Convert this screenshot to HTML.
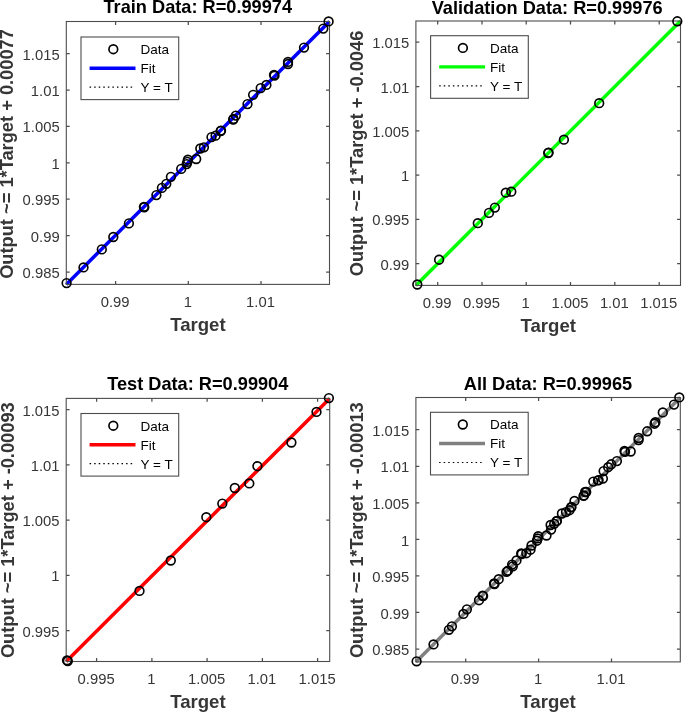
<!DOCTYPE html>
<html lang="en"><head><meta charset="utf-8"><title>Regression</title>
<style>html,body{margin:0;padding:0;background:#fff}svg{display:block}text{font-family:'Liberation Sans', sans-serif}</style>
</head><body>
<svg width="685" height="712" viewBox="0 0 685 712">
<rect width="685" height="712" fill="#fff"/>
<g>
<line x1="66.3" y1="284.4" x2="329.5" y2="21.5" stroke="#000" stroke-width="0.8" stroke-dasharray="1 3.13"/>
<line x1="66.3" y1="284.4" x2="329.5" y2="21.5" stroke="#0000ff" stroke-width="3.5"/>
<rect x="66.3" y="21.5" width="263.2" height="262.9" fill="none" stroke="#4d4d4d" stroke-width="1.1"/>
<path d="M115.6 284.4v-3.4M115.6 21.5v3.4M188.3 284.4v-3.4M188.3 21.5v3.4M261.0 284.4v-3.4M261.0 21.5v3.4M66.3 53.6h3.4M329.5 53.6h-3.4M66.3 90.0h3.4M329.5 90.0h-3.4M66.3 126.4h3.4M329.5 126.4h-3.4M66.3 162.8h3.4M329.5 162.8h-3.4M66.3 199.2h3.4M329.5 199.2h-3.4M66.3 235.6h3.4M329.5 235.6h-3.4M66.3 272.0h3.4M329.5 272.0h-3.4" stroke="#4d4d4d" stroke-width="1.25" fill="none"/>
<g fill="none" stroke="#000" stroke-width="1.65">
<circle cx="66.6" cy="283.1" r="4.35"/>
<circle cx="83.5" cy="267.4" r="4.35"/>
<circle cx="101.8" cy="249.4" r="4.35"/>
<circle cx="113.3" cy="237.0" r="4.35"/>
<circle cx="128.9" cy="223.4" r="4.35"/>
<circle cx="143.9" cy="206.8" r="4.35"/>
<circle cx="144.3" cy="207.3" r="4.35"/>
<circle cx="156.4" cy="195.1" r="4.35"/>
<circle cx="161.9" cy="187.9" r="4.35"/>
<circle cx="166.3" cy="183.8" r="4.35"/>
<circle cx="170.9" cy="176.8" r="4.35"/>
<circle cx="181.2" cy="168.9" r="4.35"/>
<circle cx="186.7" cy="164.1" r="4.35"/>
<circle cx="187.4" cy="161.9" r="4.35"/>
<circle cx="187.9" cy="159.7" r="4.35"/>
<circle cx="196.2" cy="159.0" r="4.35"/>
<circle cx="200.3" cy="148.5" r="4.35"/>
<circle cx="203.9" cy="147.3" r="4.35"/>
<circle cx="211.5" cy="137.1" r="4.35"/>
<circle cx="215.6" cy="135.7" r="4.35"/>
<circle cx="220.7" cy="131.0" r="4.35"/>
<circle cx="221.0" cy="130.6" r="4.35"/>
<circle cx="233.2" cy="119.5" r="4.35"/>
<circle cx="233.5" cy="119.0" r="4.35"/>
<circle cx="235.8" cy="115.6" r="4.35"/>
<circle cx="247.5" cy="104.1" r="4.35"/>
<circle cx="253.1" cy="94.8" r="4.35"/>
<circle cx="260.7" cy="88.1" r="4.35"/>
<circle cx="266.4" cy="84.9" r="4.35"/>
<circle cx="274.5" cy="75.7" r="4.35"/>
<circle cx="274.0" cy="74.8" r="4.35"/>
<circle cx="288.0" cy="64.0" r="4.35"/>
<circle cx="288.0" cy="61.9" r="4.35"/>
<circle cx="304.0" cy="47.6" r="4.35"/>
<circle cx="323.3" cy="28.6" r="4.35"/>
<circle cx="328.6" cy="21.4" r="4.35"/>
</g>
<g font-size="14.8" fill="#363636">
<text x="115.1" y="306.6" text-anchor="middle">0.99</text>
<text x="187.8" y="306.6" text-anchor="middle">1</text>
<text x="260.5" y="306.6" text-anchor="middle">1.01</text>
<text x="59.65" y="59.65" text-anchor="end">1.015</text>
<text x="59.65" y="96.05" text-anchor="end">1.01</text>
<text x="59.65" y="132.45" text-anchor="end">1.005</text>
<text x="59.65" y="168.85" text-anchor="end">1</text>
<text x="59.65" y="205.25" text-anchor="end">0.995</text>
<text x="59.65" y="241.65" text-anchor="end">0.99</text>
<text x="59.65" y="278.05" text-anchor="end">0.985</text>
</g>
<text x="197.8" y="12.9" text-anchor="middle" font-size="18.2" font-weight="bold" fill="#000">Train Data: R=0.99974</text>
<text x="197.9" y="330.9" text-anchor="middle" font-size="18.6" font-weight="bold" fill="#363636">Target</text>
<text transform="translate(13.0 154.0) rotate(-90)" text-anchor="middle" font-size="18.25" font-weight="bold" fill="#363636">Output ~= 1*Target + 0.00077</text>
<rect x="81.0" y="37.0" width="97.7" height="62.6" fill="#fff" stroke="#4d4d4d" stroke-width="1.1"/>
<circle cx="113.3" cy="49.2" r="4.35" fill="none" stroke="#000" stroke-width="1.65"/>
<line x1="89.6" y1="68.2" x2="135.5" y2="68.2" stroke="#0000ff" stroke-width="3.4"/>
<line x1="89.6" y1="87.2" x2="132.4" y2="87.2" stroke="#000" stroke-width="1.2" stroke-dasharray="1.5 3.06"/>
<g font-size="13.5" fill="#000">
<text x="140.5" y="54.0">Data</text>
<text x="140.5" y="73.0">Fit</text>
<text x="140.5" y="92.0">Y = T</text>
</g>
</g>
<g>
<line x1="415.9" y1="285.4" x2="680.5" y2="21.0" stroke="#000" stroke-width="0.8" stroke-dasharray="1 3.13"/>
<line x1="415.9" y1="285.4" x2="680.5" y2="21.0" stroke="#00ff00" stroke-width="3.5"/>
<rect x="415.9" y="21.0" width="264.6" height="264.4" fill="none" stroke="#4d4d4d" stroke-width="1.1"/>
<path d="M437.7 285.4v-3.4M437.7 21.0v3.4M482.0 285.4v-3.4M482.0 21.0v3.4M526.2 285.4v-3.4M526.2 21.0v3.4M570.5 285.4v-3.4M570.5 21.0v3.4M614.8 285.4v-3.4M614.8 21.0v3.4M659.2 285.4v-3.4M659.2 21.0v3.4M415.9 42.2h3.4M680.5 42.2h-3.4M415.9 86.5h3.4M680.5 86.5h-3.4M415.9 130.8h3.4M680.5 130.8h-3.4M415.9 175.1h3.4M680.5 175.1h-3.4M415.9 219.4h3.4M680.5 219.4h-3.4M415.9 263.5h3.4M680.5 263.5h-3.4" stroke="#4d4d4d" stroke-width="1.25" fill="none"/>
<g fill="none" stroke="#000" stroke-width="1.65">
<circle cx="417.3" cy="284.5" r="4.35"/>
<circle cx="439.1" cy="259.7" r="4.35"/>
<circle cx="477.8" cy="223.2" r="4.35"/>
<circle cx="489.0" cy="212.9" r="4.35"/>
<circle cx="494.9" cy="207.6" r="4.35"/>
<circle cx="505.8" cy="192.7" r="4.35"/>
<circle cx="511.3" cy="191.7" r="4.35"/>
<circle cx="548.6" cy="152.6" r="4.35"/>
<circle cx="548.2" cy="153.0" r="4.35"/>
<circle cx="563.9" cy="139.7" r="4.35"/>
<circle cx="599.2" cy="103.2" r="4.35"/>
<circle cx="677.3" cy="21.3" r="4.35"/>
</g>
<g font-size="14.8" fill="#363636">
<text x="437.2" y="307.8" text-anchor="middle">0.99</text>
<text x="481.5" y="307.8" text-anchor="middle">0.995</text>
<text x="525.7" y="307.8" text-anchor="middle">1</text>
<text x="570.0" y="307.8" text-anchor="middle">1.005</text>
<text x="614.3" y="307.8" text-anchor="middle">1.01</text>
<text x="658.7" y="307.8" text-anchor="middle">1.015</text>
<text x="409.25" y="48.25" text-anchor="end">1.015</text>
<text x="409.25" y="92.55" text-anchor="end">1.01</text>
<text x="409.25" y="136.85" text-anchor="end">1.005</text>
<text x="409.25" y="181.15" text-anchor="end">1</text>
<text x="409.25" y="225.45" text-anchor="end">0.995</text>
<text x="409.25" y="269.55" text-anchor="end">0.99</text>
</g>
<text x="547.2" y="13.5" text-anchor="middle" font-size="18.2" font-weight="bold" fill="#000">Validation Data: R=0.99976</text>
<text x="548.2" y="331.9" text-anchor="middle" font-size="18.6" font-weight="bold" fill="#363636">Target</text>
<text transform="translate(362.6 153.5) rotate(-90)" text-anchor="middle" font-size="18.25" font-weight="bold" fill="#363636">Output ~= 1*Target + -0.0046</text>
<rect x="430.6" y="35.7" width="97.7" height="62.6" fill="#fff" stroke="#4d4d4d" stroke-width="1.1"/>
<circle cx="462.9" cy="47.9" r="4.35" fill="none" stroke="#000" stroke-width="1.65"/>
<line x1="439.2" y1="66.9" x2="485.1" y2="66.9" stroke="#00ff00" stroke-width="3.4"/>
<line x1="439.2" y1="85.9" x2="482.0" y2="85.9" stroke="#000" stroke-width="1.2" stroke-dasharray="1.5 3.06"/>
<g font-size="13.5" fill="#000">
<text x="490.1" y="52.7">Data</text>
<text x="490.1" y="71.7">Fit</text>
<text x="490.1" y="90.7">Y = T</text>
</g>
</g>
<g>
<line x1="66.2" y1="661.5" x2="329.7" y2="398.4" stroke="#000" stroke-width="0.8" stroke-dasharray="1 3.13"/>
<line x1="66.2" y1="661.5" x2="329.7" y2="398.4" stroke="#ff0000" stroke-width="3.5"/>
<rect x="66.2" y="398.4" width="263.5" height="263.1" fill="none" stroke="#4d4d4d" stroke-width="1.1"/>
<path d="M96.6 661.5v-3.4M96.6 398.4v3.4M151.9 661.5v-3.4M151.9 398.4v3.4M207.1 661.5v-3.4M207.1 398.4v3.4M262.4 661.5v-3.4M262.4 398.4v3.4M317.6 661.5v-3.4M317.6 398.4v3.4M66.2 409.5h3.4M329.7 409.5h-3.4M66.2 464.8h3.4M329.7 464.8h-3.4M66.2 520.0h3.4M329.7 520.0h-3.4M66.2 575.3h3.4M329.7 575.3h-3.4M66.2 630.5h3.4M329.7 630.5h-3.4" stroke="#4d4d4d" stroke-width="1.25" fill="none"/>
<g fill="none" stroke="#000" stroke-width="1.65">
<circle cx="67.0" cy="660.3" r="4.35"/>
<circle cx="67.8" cy="661.0" r="4.35"/>
<circle cx="139.5" cy="590.9" r="4.35"/>
<circle cx="170.8" cy="560.5" r="4.35"/>
<circle cx="206.3" cy="517.2" r="4.35"/>
<circle cx="222.3" cy="503.6" r="4.35"/>
<circle cx="234.8" cy="488.0" r="4.35"/>
<circle cx="249.3" cy="483.4" r="4.35"/>
<circle cx="257.4" cy="466.2" r="4.35"/>
<circle cx="291.4" cy="442.5" r="4.35"/>
<circle cx="316.5" cy="411.9" r="4.35"/>
<circle cx="328.9" cy="398.1" r="4.35"/>
</g>
<g font-size="14.8" fill="#363636">
<text x="96.1" y="683.7" text-anchor="middle">0.995</text>
<text x="151.4" y="683.7" text-anchor="middle">1</text>
<text x="206.6" y="683.7" text-anchor="middle">1.005</text>
<text x="261.9" y="683.7" text-anchor="middle">1.01</text>
<text x="317.1" y="683.7" text-anchor="middle">1.015</text>
<text x="59.55" y="415.55" text-anchor="end">1.015</text>
<text x="59.55" y="470.85" text-anchor="end">1.01</text>
<text x="59.55" y="526.05" text-anchor="end">1.005</text>
<text x="59.55" y="581.35" text-anchor="end">1</text>
<text x="59.55" y="636.55" text-anchor="end">0.995</text>
</g>
<text x="197.8" y="390.1" text-anchor="middle" font-size="18.2" font-weight="bold" fill="#000">Test Data: R=0.99904</text>
<text x="197.9" y="708.0" text-anchor="middle" font-size="18.6" font-weight="bold" fill="#363636">Target</text>
<text transform="translate(13.5 530.2) rotate(-90)" text-anchor="middle" font-size="18.25" font-weight="bold" fill="#363636">Output ~= 1*Target + -0.00093</text>
<rect x="81.0" y="413.5" width="97.7" height="62.6" fill="#fff" stroke="#4d4d4d" stroke-width="1.1"/>
<circle cx="113.3" cy="425.7" r="4.35" fill="none" stroke="#000" stroke-width="1.65"/>
<line x1="89.6" y1="444.7" x2="135.5" y2="444.7" stroke="#ff0000" stroke-width="3.4"/>
<line x1="89.6" y1="463.7" x2="132.4" y2="463.7" stroke="#000" stroke-width="1.2" stroke-dasharray="1.5 3.06"/>
<g font-size="13.5" fill="#000">
<text x="140.5" y="430.5">Data</text>
<text x="140.5" y="449.5">Fit</text>
<text x="140.5" y="468.5">Y = T</text>
</g>
</g>
<g>
<line x1="415.9" y1="661.9" x2="680.3" y2="397.5" stroke="#000" stroke-width="0.8" stroke-dasharray="1 3.13"/>
<line x1="415.9" y1="661.9" x2="680.3" y2="397.5" stroke="#808080" stroke-width="3.5"/>
<rect x="415.9" y="397.5" width="264.4" height="264.4" fill="none" stroke="#4d4d4d" stroke-width="1.1"/>
<path d="M465.7 661.9v-3.4M465.7 397.5v3.4M538.6 661.9v-3.4M538.6 397.5v3.4M611.5 661.9v-3.4M611.5 397.5v3.4M415.9 429.7h3.4M680.3 429.7h-3.4M415.9 466.25h3.4M680.3 466.25h-3.4M415.9 502.8h3.4M680.3 502.8h-3.4M415.9 539.35h3.4M680.3 539.35h-3.4M415.9 575.9h3.4M680.3 575.9h-3.4M415.9 612.45h3.4M680.3 612.45h-3.4M415.9 649.0h3.4M680.3 649.0h-3.4" stroke="#4d4d4d" stroke-width="1.25" fill="none"/>
<g fill="none" stroke="#000" stroke-width="1.65">
<circle cx="416.6" cy="661.3" r="4.35"/>
<circle cx="433.5" cy="644.4" r="4.35"/>
<circle cx="451.9" cy="626.3" r="4.35"/>
<circle cx="463.4" cy="613.9" r="4.35"/>
<circle cx="479.0" cy="600.2" r="4.35"/>
<circle cx="494.1" cy="583.5" r="4.35"/>
<circle cx="494.5" cy="584.0" r="4.35"/>
<circle cx="506.6" cy="571.8" r="4.35"/>
<circle cx="512.1" cy="564.6" r="4.35"/>
<circle cx="516.5" cy="560.4" r="4.35"/>
<circle cx="521.2" cy="553.4" r="4.35"/>
<circle cx="531.5" cy="545.5" r="4.35"/>
<circle cx="537.0" cy="540.7" r="4.35"/>
<circle cx="537.7" cy="538.4" r="4.35"/>
<circle cx="538.2" cy="536.2" r="4.35"/>
<circle cx="546.5" cy="535.5" r="4.35"/>
<circle cx="550.6" cy="525.0" r="4.35"/>
<circle cx="554.2" cy="523.8" r="4.35"/>
<circle cx="561.9" cy="513.5" r="4.35"/>
<circle cx="566.0" cy="512.1" r="4.35"/>
<circle cx="571.1" cy="507.4" r="4.35"/>
<circle cx="571.4" cy="507.0" r="4.35"/>
<circle cx="583.6" cy="495.9" r="4.35"/>
<circle cx="583.9" cy="495.4" r="4.35"/>
<circle cx="586.2" cy="492.0" r="4.35"/>
<circle cx="598.0" cy="480.4" r="4.35"/>
<circle cx="603.6" cy="471.1" r="4.35"/>
<circle cx="611.2" cy="464.3" r="4.35"/>
<circle cx="616.9" cy="461.1" r="4.35"/>
<circle cx="625.0" cy="451.9" r="4.35"/>
<circle cx="624.5" cy="451.0" r="4.35"/>
<circle cx="638.6" cy="440.1" r="4.35"/>
<circle cx="638.6" cy="438.0" r="4.35"/>
<circle cx="654.6" cy="423.7" r="4.35"/>
<circle cx="674.0" cy="404.6" r="4.35"/>
<circle cx="679.3" cy="397.4" r="4.35"/>
<circle cx="448.9" cy="629.8" r="4.35"/>
<circle cx="466.9" cy="609.3" r="4.35"/>
<circle cx="498.7" cy="579.2" r="4.35"/>
<circle cx="507.9" cy="570.7" r="4.35"/>
<circle cx="512.8" cy="566.3" r="4.35"/>
<circle cx="521.7" cy="554.0" r="4.35"/>
<circle cx="526.3" cy="553.2" r="4.35"/>
<circle cx="556.9" cy="520.9" r="4.35"/>
<circle cx="556.6" cy="521.2" r="4.35"/>
<circle cx="569.5" cy="510.2" r="4.35"/>
<circle cx="598.6" cy="480.1" r="4.35"/>
<circle cx="662.8" cy="412.4" r="4.35"/>
<circle cx="482.6" cy="595.6" r="4.35"/>
<circle cx="483.1" cy="596.1" r="4.35"/>
<circle cx="530.5" cy="549.7" r="4.35"/>
<circle cx="551.1" cy="529.6" r="4.35"/>
<circle cx="574.5" cy="500.9" r="4.35"/>
<circle cx="585.1" cy="492.0" r="4.35"/>
<circle cx="593.3" cy="481.6" r="4.35"/>
<circle cx="602.9" cy="478.6" r="4.35"/>
<circle cx="608.2" cy="467.2" r="4.35"/>
<circle cx="630.7" cy="451.5" r="4.35"/>
<circle cx="647.2" cy="431.3" r="4.35"/>
<circle cx="655.4" cy="422.2" r="4.35"/>
</g>
<g font-size="14.8" fill="#363636">
<text x="465.2" y="683.8" text-anchor="middle">0.99</text>
<text x="538.1" y="683.8" text-anchor="middle">1</text>
<text x="611.0" y="683.8" text-anchor="middle">1.01</text>
<text x="409.25" y="435.85" text-anchor="end">1.015</text>
<text x="409.25" y="472.40" text-anchor="end">1.01</text>
<text x="409.25" y="508.95" text-anchor="end">1.005</text>
<text x="409.25" y="545.50" text-anchor="end">1</text>
<text x="409.25" y="582.05" text-anchor="end">0.995</text>
<text x="409.25" y="618.60" text-anchor="end">0.99</text>
<text x="409.25" y="655.15" text-anchor="end">0.985</text>
</g>
<text x="548" y="389.9" text-anchor="middle" font-size="18.2" font-weight="bold" fill="#000">All Data: R=0.99965</text>
<text x="548.1" y="708.4" text-anchor="middle" font-size="18.6" font-weight="bold" fill="#363636">Target</text>
<text transform="translate(362.6 530.2) rotate(-90)" text-anchor="middle" font-size="18.25" font-weight="bold" fill="#363636">Output ~= 1*Target + -0.00013</text>
<rect x="430.5" y="412.3" width="97.7" height="62.6" fill="#fff" stroke="#4d4d4d" stroke-width="1.1"/>
<circle cx="462.8" cy="424.5" r="4.35" fill="none" stroke="#000" stroke-width="1.65"/>
<line x1="439.1" y1="443.5" x2="485.0" y2="443.5" stroke="#808080" stroke-width="3.4"/>
<line x1="439.1" y1="462.5" x2="481.9" y2="462.5" stroke="#000" stroke-width="1.2" stroke-dasharray="1.5 3.06"/>
<g font-size="13.5" fill="#000">
<text x="490.0" y="429.3">Data</text>
<text x="490.0" y="448.3">Fit</text>
<text x="490.0" y="467.3">Y = T</text>
</g>
</g>
</svg></body></html>
